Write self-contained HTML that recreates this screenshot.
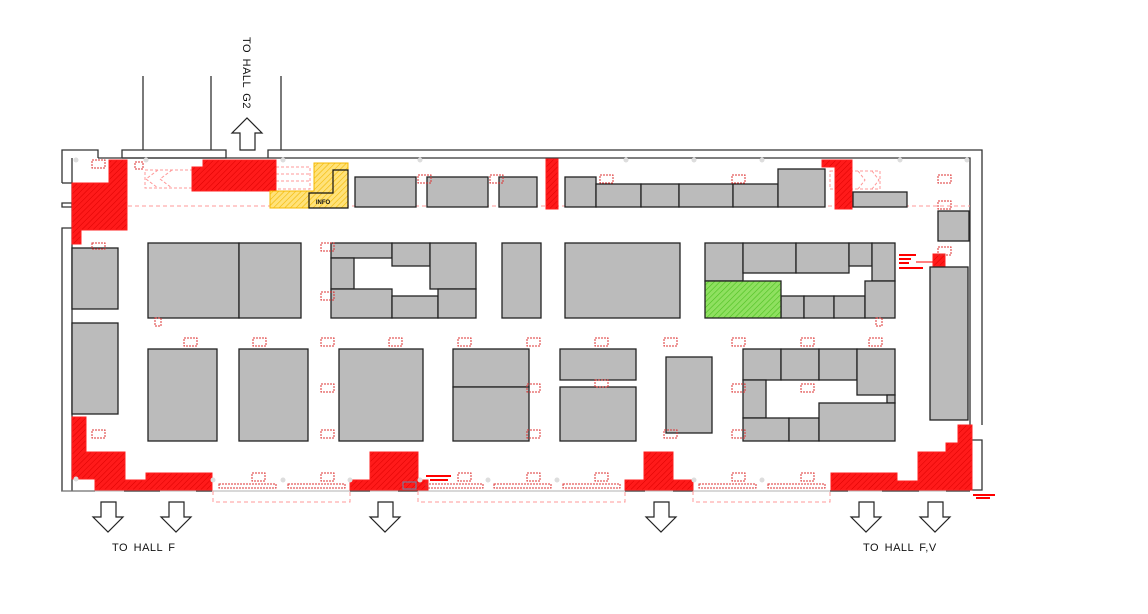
<!DOCTYPE html>
<html><head><meta charset="utf-8"><style>
html,body{margin:0;padding:0;background:#fff;}
svg{display:block;}
text{font-family:"Liberation Sans",sans-serif;}
</style></head><body>
<svg width="1148" height="614" viewBox="0 0 1148 614" xmlns="http://www.w3.org/2000/svg">
<defs>
<pattern id="rh" width="4" height="4" patternUnits="userSpaceOnUse" patternTransform="rotate(45)">
<rect width="4" height="4" fill="#ff1a1a"/><line x1="0" y1="0" x2="0" y2="4" stroke="#d00" stroke-width="1"/></pattern>
<pattern id="yh" width="4" height="4" patternUnits="userSpaceOnUse" patternTransform="rotate(45)">
<rect width="4" height="4" fill="#ffe27a"/><line x1="0" y1="0" x2="0" y2="4" stroke="#f2b800" stroke-width="1.2"/></pattern>
<pattern id="gh" width="4" height="4" patternUnits="userSpaceOnUse" patternTransform="rotate(45)">
<rect width="4" height="4" fill="#8fe060"/><line x1="0" y1="0" x2="0" y2="4" stroke="#4cc020" stroke-width="1.2"/></pattern>
</defs>

<g stroke="#333" stroke-width="1.3" fill="none">
<line x1="143" y1="76" x2="143" y2="150"/>
<line x1="211" y1="76" x2="211" y2="150"/>
<line x1="281" y1="76" x2="281" y2="150"/>
<path d="M62,183 V150 H98 V158"/>
<path d="M122,158 V150 H226 V158 H122"/>
<path d="M268,158 V150 H982 V425"/>
<path d="M98,158 H970 V425"/>
<path d="M970,440 H982 V490 H970"/>
<line x1="970" y1="440" x2="970" y2="490"/>
<path d="M62,183 H72"/>
<path d="M62,203 H72 V207 H62 Z"/>
<path d="M72,228 H62 V491 H95"/>
<line x1="72" y1="158" x2="72" y2="491"/>
</g>
<g stroke="#555" stroke-width="1.6">
<line x1="62" y1="491" x2="970" y2="491" stroke="#999" stroke-width="0.8"/>
<line x1="124" y1="491" x2="160" y2="491"/>
<line x1="196" y1="491" x2="212" y2="491"/>
<line x1="350" y1="491" x2="370" y2="491"/>
<line x1="398" y1="491" x2="418" y2="491"/>
<line x1="625" y1="491" x2="645" y2="491"/>
<line x1="673" y1="491" x2="693" y2="491"/>
<line x1="830" y1="491" x2="848" y2="491"/>
<line x1="882" y1="491" x2="919" y2="491"/>
<line x1="946" y1="491" x2="970" y2="491"/>
</g>

<g stroke="#f99" stroke-width="1" fill="none" stroke-dasharray="4,3">
<line x1="72" y1="206" x2="970" y2="206"/>
<path d="M213,491 V502 H350 V491"/>
<path d="M418,491 V502 H625 V491"/>
<path d="M693,491 V502 H830 V491"/>
</g>
<g stroke="#f99" stroke-width="1" fill="none" stroke-dasharray="3,2">
<rect x="145" y="170" width="47" height="18"/>
<path d="M158,170 L146,179 L158,188 M172,170 L160,179 L172,188"/>
<rect x="276" y="167" width="34" height="22"/>
<line x1="276" y1="174" x2="310" y2="174"/><line x1="276" y1="181" x2="310" y2="181"/>
<rect x="830" y="171" width="50" height="18"/>
<path d="M872,171 L879,180 L872,189 M858,171 L865,180 L858,189"/>
</g>

<g fill="url(#rh)" stroke="#ff2020" stroke-width="1">
<path d="M72,183 H109 V160 H127 V230 H81 V244 H72 Z"/>
<path d="M192,167 H203 V160 H276 V191 H192 Z"/>
<rect x="546" y="159" width="12" height="50"/>
<path d="M822,160 H852 V209 H835 V167 H822 Z"/>
<path d="M72,417 H86 V452 H125 V480 H146 V473 H212 V490 H95 V479 H72 Z"/>
<path d="M350,480 H370 V452 H418 V480 H428 V490 H350 Z"/>
<path d="M625,480 H644 V452 H673 V480 H693 V490 H625 Z"/>
<path d="M831,473 H897 V481 H918 V452 H946 V443 H958 V425 H972 V490 H831 Z"/>
<rect x="933" y="254" width="12" height="12"/>
</g>
<g fill="#f00">
<rect x="899" y="254" width="17" height="2"/><rect x="899" y="258" width="12" height="2"/>
<rect x="899" y="262" width="10" height="2"/><rect x="899" y="267" width="24" height="2"/>
<rect x="426" y="475" width="25" height="2"/><rect x="430" y="479" width="18" height="2"/>
<rect x="973" y="494" width="22" height="2"/><rect x="976" y="497" width="14" height="2"/>
</g>
<line x1="916" y1="262" x2="933" y2="262" stroke="#f00" stroke-width="1"/>

<path d="M314,163 H348 V208 H270 V191 H314 Z" fill="url(#yh)" stroke="#f5b800" stroke-width="1"/>
<path d="M309,208 V193 H333 V170 H348 V208 Z" fill="none" stroke="#111" stroke-width="1.2"/>
<text x="323" y="204" font-size="6" font-weight="bold" fill="#111" text-anchor="middle">INFO</text>

<g fill="#bbb" stroke="#222" stroke-width="1.3">
<rect x="355" y="177" width="61" height="30"/>
<rect x="427" y="177" width="61" height="30"/>
<rect x="499" y="177" width="38" height="30"/>
<rect x="565" y="177" width="31" height="30"/>
<rect x="596" y="184" width="45" height="23"/>
<rect x="641" y="184" width="38" height="23"/>
<rect x="679" y="184" width="54" height="23"/>
<rect x="733" y="184" width="45" height="23"/>
<rect x="778" y="169" width="47" height="38"/>
<rect x="853" y="192" width="54" height="15"/>
<rect x="938" y="211" width="31" height="30"/>
<rect x="72" y="248" width="46" height="61"/>
<rect x="72" y="323" width="46" height="91"/>
<rect x="148" y="243" width="91" height="75"/>
<rect x="239" y="243" width="62" height="75"/>
<rect x="331" y="243" width="61" height="15"/>
<rect x="331" y="258" width="23" height="31"/>
<rect x="331" y="289" width="61" height="29"/>
<rect x="392" y="243" width="38" height="23"/>
<rect x="430" y="243" width="46" height="46"/>
<rect x="392" y="296" width="46" height="22"/>
<rect x="438" y="289" width="38" height="29"/>
<rect x="502" y="243" width="39" height="75"/>
<rect x="565" y="243" width="115" height="75"/>
<rect x="705" y="243" width="38" height="38"/>
<rect x="743" y="243" width="53" height="30"/>
<rect x="796" y="243" width="53" height="30"/>
<rect x="849" y="243" width="23" height="23"/>
<rect x="872" y="243" width="23" height="38"/>
<rect x="781" y="296" width="23" height="22"/>
<rect x="804" y="296" width="30" height="22"/>
<rect x="834" y="296" width="31" height="22"/>
<rect x="865" y="281" width="30" height="37"/>
<rect x="930" y="267" width="38" height="153"/>
<rect x="148" y="349" width="69" height="92"/>
<rect x="239" y="349" width="69" height="92"/>
<rect x="339" y="349" width="84" height="92"/>
<rect x="453" y="349" width="76" height="38"/>
<rect x="453" y="387" width="76" height="54"/>
<rect x="560" y="349" width="76" height="31"/>
<rect x="560" y="387" width="76" height="54"/>
<rect x="666" y="357" width="46" height="76"/>
<rect x="743" y="349" width="38" height="31"/>
<rect x="781" y="349" width="38" height="31"/>
<rect x="819" y="349" width="38" height="31"/>
<rect x="857" y="349" width="38" height="46"/>
<rect x="887" y="395" width="8" height="8"/>
<rect x="743" y="380" width="23" height="38"/>
<rect x="743" y="418" width="46" height="23"/>
<rect x="789" y="418" width="30" height="23"/>
<rect x="819" y="403" width="76" height="38"/>
</g>
<rect x="705" y="281" width="76" height="37" fill="url(#gh)" stroke="#222" stroke-width="1.3"/>

<g fill="none" stroke="#d33" stroke-width="1" stroke-dasharray="2,1">
<rect x="92" y="160" width="13" height="8"/><rect x="135" y="162" width="8" height="7"/>
<rect x="418" y="175" width="13" height="8"/><rect x="490" y="175" width="13" height="8"/>
<rect x="600" y="175" width="13" height="8"/><rect x="732" y="175" width="13" height="8"/>
<rect x="938" y="175" width="13" height="8"/><rect x="938" y="201" width="13" height="8"/>
<rect x="938" y="247" width="13" height="8"/>
<rect x="92" y="243" width="13" height="6"/><rect x="155" y="318" width="6" height="8"/>
<rect x="321" y="243" width="13" height="8"/><rect x="321" y="292" width="13" height="8"/>
<rect x="184" y="338" width="13" height="8"/><rect x="253" y="338" width="13" height="8"/>
<rect x="321" y="338" width="13" height="8"/><rect x="389" y="338" width="13" height="8"/>
<rect x="458" y="338" width="13" height="8"/><rect x="527" y="338" width="13" height="8"/>
<rect x="595" y="338" width="13" height="8"/><rect x="664" y="338" width="13" height="8"/>
<rect x="732" y="338" width="13" height="8"/><rect x="801" y="338" width="13" height="8"/>
<rect x="869" y="338" width="13" height="8"/>
<rect x="321" y="384" width="13" height="8"/><rect x="527" y="384" width="13" height="8"/>
<rect x="595" y="380" width="13" height="7"/><rect x="732" y="384" width="13" height="8"/>
<rect x="801" y="384" width="13" height="8"/>
<rect x="92" y="430" width="13" height="8"/><rect x="321" y="430" width="13" height="8"/>
<rect x="527" y="430" width="13" height="8"/><rect x="664" y="430" width="13" height="8"/>
<rect x="732" y="430" width="13" height="8"/><rect x="876" y="318" width="6" height="8"/>
<rect x="252" y="473" width="13" height="8"/><rect x="321" y="473" width="13" height="8"/>
<rect x="458" y="473" width="13" height="8"/><rect x="527" y="473" width="13" height="8"/>
<rect x="595" y="473" width="13" height="8"/><rect x="732" y="473" width="13" height="8"/>
<rect x="801" y="473" width="13" height="8"/>
<rect x="219" y="484" width="57" height="4"/><rect x="288" y="484" width="57" height="4"/>
<rect x="426" y="484" width="57" height="4"/><rect x="494" y="484" width="57" height="4"/>
<rect x="563" y="484" width="57" height="4"/><rect x="699" y="484" width="57" height="4"/>
<rect x="768" y="484" width="57" height="4"/>
</g>
<rect x="403" y="482" width="13" height="7" fill="none" stroke="#68a" stroke-width="1"/>
<g fill="#ddd">
<circle cx="76" cy="160" r="2.5"/><circle cx="146" cy="160" r="2.5"/><circle cx="283" cy="160" r="2.5"/>
<circle cx="420" cy="160" r="2.5"/><circle cx="626" cy="160" r="2.5"/><circle cx="694" cy="160" r="2.5"/>
<circle cx="762" cy="160" r="2.5"/><circle cx="900" cy="160" r="2.5"/><circle cx="967" cy="160" r="2.5"/>
<circle cx="76" cy="479" r="2.5"/><circle cx="213" cy="480" r="2.5"/><circle cx="283" cy="480" r="2.5"/>
<circle cx="350" cy="480" r="2.5"/><circle cx="420" cy="480" r="2.5"/><circle cx="488" cy="480" r="2.5"/>
<circle cx="557" cy="480" r="2.5"/><circle cx="694" cy="480" r="2.5"/><circle cx="762" cy="480" r="2.5"/>
</g>

<g fill="#fff" stroke="#222" stroke-width="1.2">
<path d="M240,150 V133 H232 L247,118 L262,133 H255 V150 Z"/>
<path d="M101,502 H116 V517 H123 L108,532 L93,517 H101 Z"/>
<path d="M169,502 H184 V517 H191 L176,532 L161,517 H169 Z"/>
<path d="M378,502 H393 V517 H400 L385,532 L370,517 H378 Z"/>
<path d="M654,502 H669 V517 H676 L661,532 L646,517 H654 Z"/>
<path d="M859,502 H874 V517 H881 L866,532 L851,517 H859 Z"/>
<path d="M928,502 H943 V517 H950 L935,532 L920,517 H928 Z"/>
</g>

<text x="112" y="551" font-size="11" fill="#111" letter-spacing="0.5" word-spacing="2">TO HALL F</text>
<text x="863" y="551" font-size="11" fill="#111" letter-spacing="0.5" word-spacing="2">TO HALL F,V</text>
<text transform="translate(243,37) rotate(90)" font-size="11" fill="#111" letter-spacing="0.5" word-spacing="2">TO HALL G2</text>
</svg>
</body></html>
